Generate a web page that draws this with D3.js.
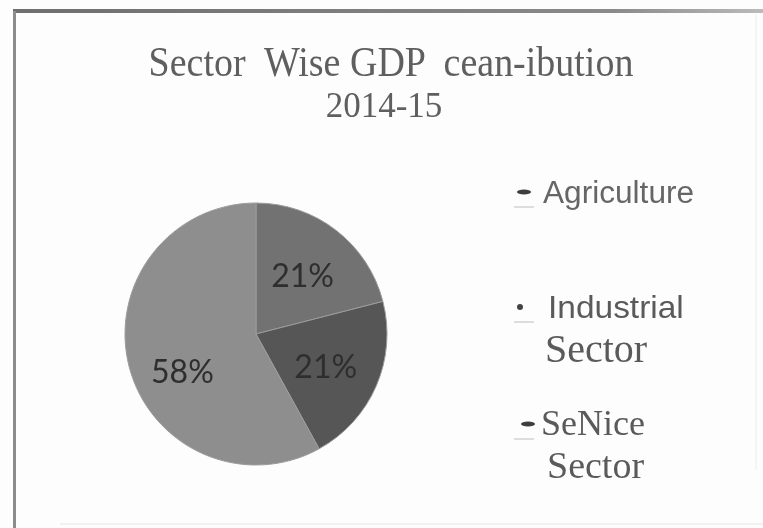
<!DOCTYPE html>
<html>
<head>
<meta charset="utf-8">
<script src="https://cdn.jsdelivr.net/npm/d3@7"></script>
<style>
  body { margin: 0; background: #fdfdfd; }
  svg { display: block; }
  .serif { font-family: "Liberation Serif", "Times New Roman", serif; }
  .sans { font-family: "Liberation Sans", Arial, sans-serif; }
</style>
</head>
<body>
<svg id="chart" width="763" height="528"></svg>
<script>
// chart data
var sectors = ["Agriculture", "Industrial Sector", "SeNice Sector"];
var shares = [21, 21, 58];
var titleLines = ["Sector  Wise GDP  cean-ibution", "2014-15"];
// legend text as it is printed (first word sans / serif mix)
var legendLines = [["Agriculture"], ["Industrial", "Sector"], ["SeNice", "Sector"]];

var sliceColors = ["#727272", "#565656", "#8e8e8e"];

var svg = d3.select("#chart");
var width = +svg.attr("width");
var height = +svg.attr("height");

var defs = svg.append("defs");
defs.append("filter").attr("id", "soft")
    .append("feGaussianBlur").attr("stdDeviation", 0.7);

var root = svg.append("g").attr("filter", "url(#soft)");

root.append("rect")
    .attr("width", width).attr("height", height)
    .attr("fill", "#fdfdfd");

// frame of the scanned page
defs.append("linearGradient").attr("id", "topEdge")
    .selectAll("stop")
    .data([["0%", "#6e6e6e"], ["80%", "#8a8a8a"], ["100%", "#bbbbbb"]])
    .enter().append("stop")
    .attr("offset", function (d) { return d[0]; })
    .attr("stop-color", function (d) { return d[1]; });

root.append("rect")
    .attr("x", 13).attr("y", 9)
    .attr("width", width - 13).attr("height", 4)
    .attr("fill", "url(#topEdge)");
root.append("rect")
    .attr("x", 13).attr("y", 11)
    .attr("width", 3).attr("height", height - 11)
    .attr("fill", "#8c8c8c");
root.append("line")
    .attr("x1", 60).attr("x2", width)
    .attr("y1", 524).attr("y2", 524)
    .attr("stroke", "#e6e6e6").attr("stroke-width", 1);
root.append("line")
    .attr("x1", 756).attr("x2", 756)
    .attr("y1", 14).attr("y2", 470)
    .attr("stroke", "#ececec").attr("stroke-width", 1);

// title
root.append("text")
    .attr("class", "serif")
    .attr("transform", "translate(391,76) scale(1,1.12)")
    .attr("text-anchor", "middle")
    .style("white-space", "pre")
    .attr("font-size", 38)
    .attr("fill", "#5e5e5e")
    .text(titleLines[0]);
root.append("text")
    .attr("class", "serif")
    .attr("transform", "translate(384,117)")
    .attr("text-anchor", "middle")
    .attr("font-size", 35)
    .attr("fill", "#5e5e5e")
    .text(titleLines[1]);

// pie
var cx = 256, cy = 334, radius = 131;
var pie = d3.pie().sort(null).value(function (d) { return d; });
var arcs = pie(shares);
var arc = d3.arc().innerRadius(0).outerRadius(radius);
var labelArc = d3.arc().innerRadius(radius * 0.58).outerRadius(radius * 0.58);
var labelShift = [[0, 2], [0, 2], [0, 19]];

var pieG = root.append("g").attr("transform", "translate(" + cx + "," + cy + ")");

pieG.selectAll("path")
    .data(arcs)
    .enter()
    .append("path")
    .attr("d", arc)
    .attr("fill", function (d, i) { return sliceColors[i]; })
    .attr("stroke", "#9c9c9c")
    .attr("stroke-width", 1);

pieG.selectAll("text")
    .data(arcs)
    .enter()
    .append("text")
    .attr("x", function (d, i) { return labelArc.centroid(d)[0] + labelShift[i][0]; })
    .attr("y", function (d, i) { return labelArc.centroid(d)[1] + labelShift[i][1]; })
    .attr("dy", "0.36em")
    .attr("text-anchor", "middle")
    .attr("font-family", "Lato, 'Open Sans', sans-serif")
    .attr("font-size", 32)
    .attr("fill", "#2e2e2e")
    .text(function (d) { return d.data + "%"; });

// legend
var legendY = [203, 318, 435];
var legend = root.append("g");

legendLines.forEach(function (lines, i) {
    var y = legendY[i];
    var g = legend.append("g");
    // little marker + faint underline
    if (i === 1) {
        g.append("circle").attr("cx", 520).attr("cy", y - 11).attr("r", 3)
            .attr("fill", "#444");
    } else {
        g.append("ellipse").attr("cx", 524 + (i === 2 ? 4 : 0)).attr("cy", y - 11)
            .attr("rx", 7).attr("ry", 2.5)
            .attr("fill", "#3e3e3e");
    }
    g.append("line")
        .attr("x1", 514).attr("x2", 534)
        .attr("y1", y + 4).attr("y2", y + 4)
        .attr("stroke", "#d2d2d2").attr("stroke-width", 1.5);

    if (i === 0) {
        g.append("text").attr("class", "sans")
            .attr("transform", "translate(543," + y + ") scale(1.02,1)")
            .attr("font-size", 31)
            .attr("fill", "#666")
            .text(lines[0]);
    } else if (i === 1) {
        g.append("text").attr("class", "sans")
            .attr("transform", "translate(548," + y + ") scale(1.08,1)")
            .attr("font-size", 31)
            .attr("fill", "#5a5a5a")
            .text(lines[0]);
        g.append("text").attr("class", "serif")
            .attr("x", 545).attr("y", y + 44)
            .attr("font-size", 40)
            .attr("fill", "#5a5a5a")
            .text(lines[1]);
    } else {
        g.append("text").attr("class", "serif")
            .attr("x", 541).attr("y", y)
            .attr("font-size", 36)
            .attr("fill", "#5a5a5a")
            .text(lines[0]);
        g.append("text").attr("class", "serif")
            .attr("x", 547).attr("y", y + 43)
            .attr("font-size", 38)
            .attr("fill", "#5a5a5a")
            .text(lines[1]);
    }
});
</script>
</body>
</html>
